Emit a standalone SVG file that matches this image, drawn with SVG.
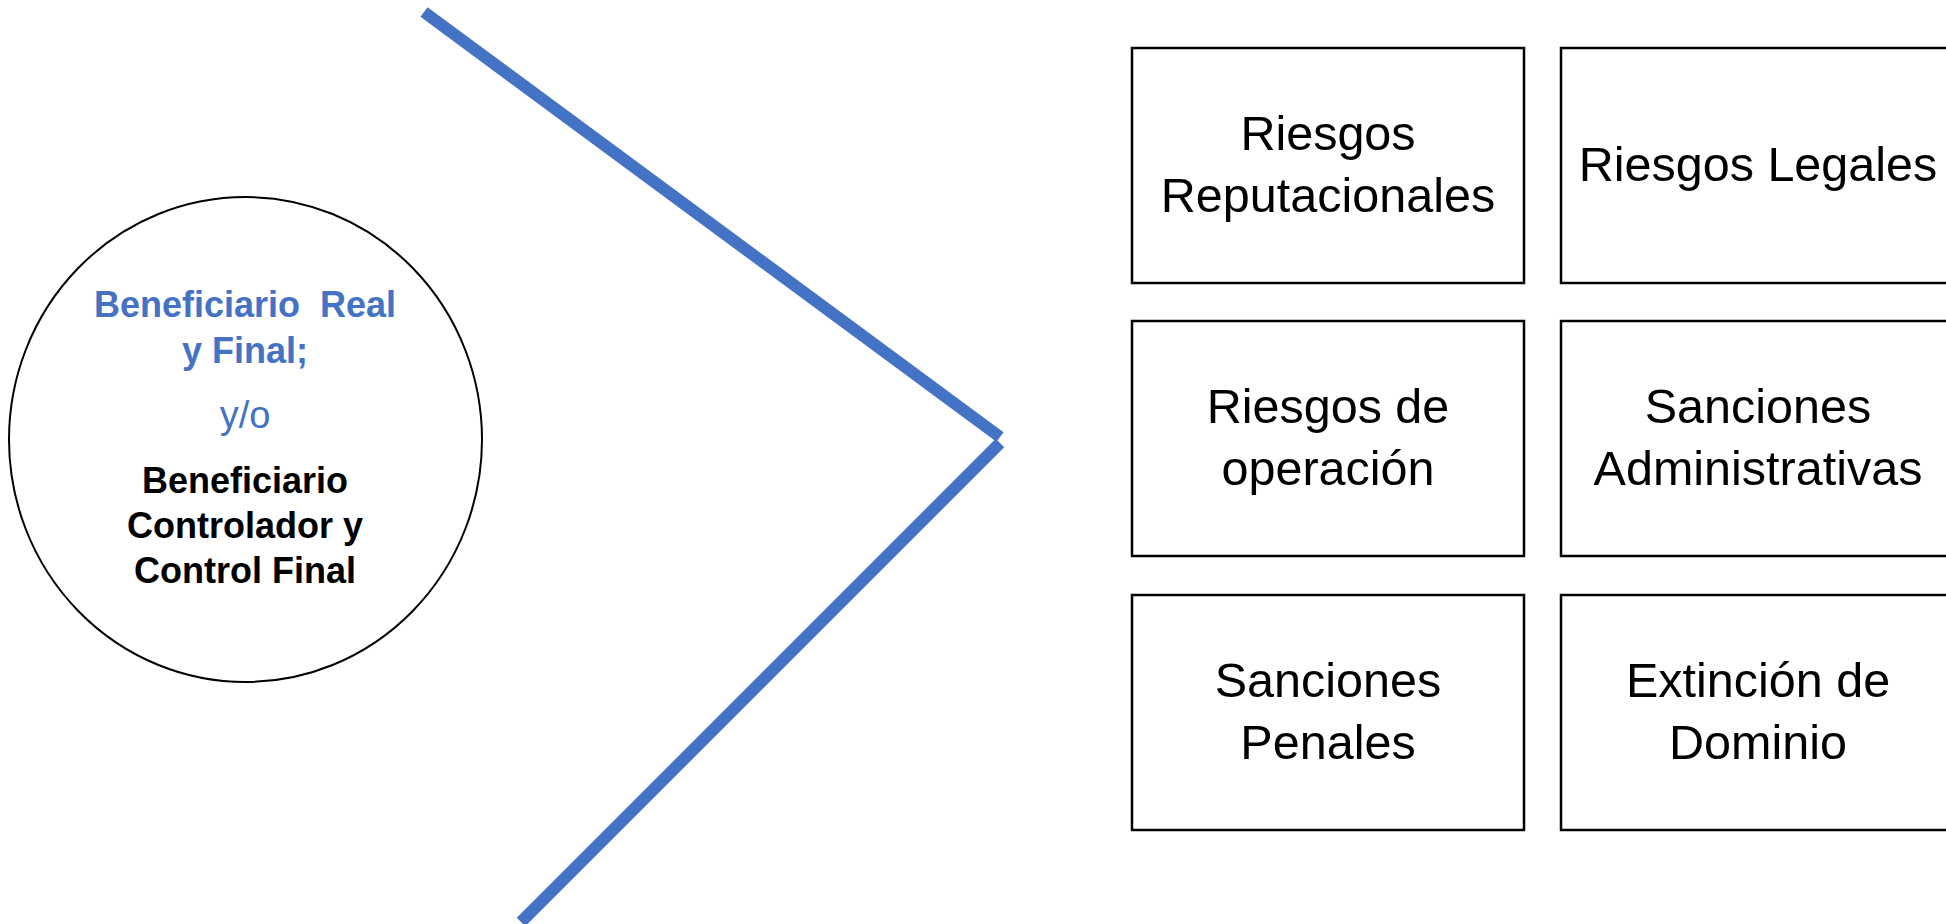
<svg xmlns="http://www.w3.org/2000/svg" width="1946" height="924" viewBox="0 0 1946 924">
<style>
.bg{fill:#fff}
.box{fill:#fff;stroke:#000;stroke-width:2.5}
.circ{fill:#fff;stroke:#000;stroke-width:2}
.conn{stroke:#4472C4;stroke-width:12;fill:none;stroke-linecap:butt}
.bt{font-family:"Liberation Sans",Arial,sans-serif;font-size:48.5px;fill:#000;text-anchor:middle}
.ct{font-family:"Liberation Sans",Arial,sans-serif;font-size:36px;font-weight:bold;text-anchor:middle}
.blue{fill:#4472C4}
.blk{fill:#000}
.yo{font-family:"Liberation Sans",Arial,sans-serif;font-size:38px;fill:#4472C4;text-anchor:middle}
</style>
<rect class="bg" x="0" y="0" width="1946" height="924"/>
<g id="connectors">
<line class="conn" x1="424" y1="12" x2="1000" y2="437"/>
<line class="conn" x1="1000" y1="443" x2="521" y2="922"/>
</g>
<g id="beneficiario">
<ellipse class="circ" cx="245.5" cy="439.5" rx="236.5" ry="242.5"/>
<text class="ct blue" x="245" y="317" xml:space="preserve">Beneficiario  Real</text>
<text class="ct blue" x="245" y="363">y Final;</text>
<text class="yo" x="245" y="428">y/o</text>
<text class="ct blk" x="245" y="493">Beneficiario</text>
<text class="ct blk" x="245" y="538">Controlador y</text>
<text class="ct blk" x="245" y="583">Control Final</text>
</g>
<g id="riesgos-reputacionales">
<rect class="box" x="1132" y="48" width="392" height="235"/>
<text class="bt" x="1328" y="150">Riesgos</text>
<text class="bt" x="1328" y="212">Reputacionales</text>
</g>
<g id="riesgos-legales">
<rect class="box" x="1561" y="48" width="392" height="235"/>
<text class="bt" x="1758" y="181">Riesgos Legales</text>
</g>
<g id="riesgos-operacion">
<rect class="box" x="1132" y="321" width="392" height="235"/>
<text class="bt" x="1328" y="423">Riesgos de</text>
<text class="bt" x="1328" y="485">operación</text>
</g>
<g id="sanciones-administrativas">
<rect class="box" x="1561" y="321" width="392" height="235"/>
<text class="bt" x="1758" y="423">Sanciones</text>
<text class="bt" x="1758" y="485">Administrativas</text>
</g>
<g id="sanciones-penales">
<rect class="box" x="1132" y="595" width="392" height="235"/>
<text class="bt" x="1328" y="697">Sanciones</text>
<text class="bt" x="1328" y="759">Penales</text>
</g>
<g id="extincion-dominio">
<rect class="box" x="1561" y="595" width="392" height="235"/>
<text class="bt" x="1758" y="697">Extinción de</text>
<text class="bt" x="1758" y="759">Dominio</text>
</g>
</svg>
